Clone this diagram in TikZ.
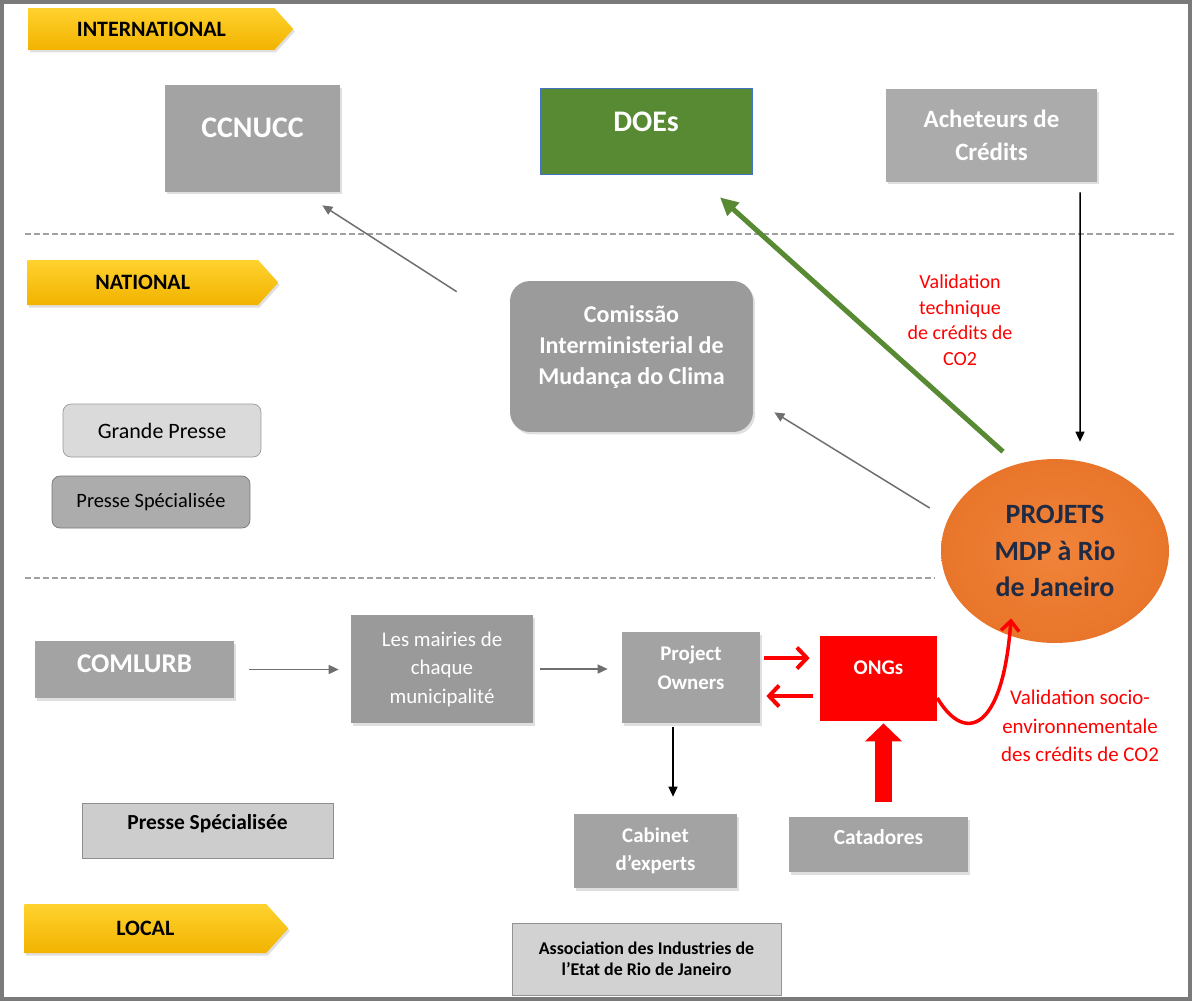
\documentclass[tikz,border=0pt]{standalone}
\usepackage{fontspec}
\setmainfont{Carlito}
\usetikzlibrary{arrows.meta,shapes.geometric,shapes.symbols,shadows}
\definecolor{boxgrey}{HTML}{A3A3A3}
\definecolor{achgrey}{HTML}{ABABAB}
\definecolor{comgrey}{HTML}{9B9B9B}
\definecolor{mairgrey}{HTML}{9A9A9A}
\definecolor{arrowgrey}{HTML}{6F6F6F}
\definecolor{framegrey}{HTML}{7A7A7A}
\definecolor{dashgrey}{HTML}{A0A0A0}
\definecolor{gplight}{HTML}{DADADA}
\definecolor{psdark}{HTML}{ACACAC}
\definecolor{pslight}{HTML}{CDCDCD}
\definecolor{assocgrey}{HTML}{D2D2D2}
\definecolor{doegreen}{HTML}{578A33}
\definecolor{doeblue}{HTML}{4472C4}
\definecolor{ongred}{HTML}{FF0000}
\definecolor{projlight}{HTML}{F0843A}
\definecolor{projdark}{HTML}{E8752A}
\definecolor{projnavy}{HTML}{1F2A44}
\definecolor{bannertop}{HTML}{FFD22E}
\definecolor{bannerbot}{HTML}{F2B300}
\begin{document}
\begin{tikzpicture}[x=0.02cm,y=-0.02cm,
  every node/.style={align=center,inner sep=2pt},
  greybox/.style={rectangle,fill=#1,text=white,
    drop shadow={shadow xshift=0.04cm,shadow yshift=-0.05cm,opacity=0.25}},
  greybox/.default=boxgrey,
  pressbox/.style={rectangle,draw=#1!70!black,fill=#1,text=black},
  banner/.style={signal,signal to=east,signal from=nowhere,signal pointer angle=96,
    top color=bannertop,bottom color=bannerbot,inner sep=0pt,anchor=west,
    font=\bfseries\fontsize{12.5}{15}\selectfont,
    drop shadow={shadow xshift=0.03cm,shadow yshift=-0.05cm,opacity=0.25}},
  thin arrow/.style={draw=#1,line width=0.03cm,-{Triangle[length=0.2cm,width=0.18cm]}},
  red arrow/.style={draw=ongred,line width=0.08cm,-{Straight Barb[length=0.2cm,width=0.42cm]}},
  green arrow/.style={draw=doegreen,line width=0.1cm,-{Triangle[length=0.36cm,width=0.34cm]}},
  redlabel/.style={text=ongred,font=\fontsize{11.9}{16.2}\selectfont}]
\useasboundingbox (0,0) rectangle (1192,1001);
\draw[framegrey,line width=0.08cm] (2,2) rectangle (1190,999);
\draw[dashgrey,line width=0.03cm,dash pattern=on 0.12cm off 0.06cm] (25,234) -- (1176,234);
\draw[dashgrey,line width=0.03cm,dash pattern=on 0.12cm off 0.06cm] (25,578) -- (935,578);

\node[banner,minimum width=5.3cm,minimum height=0.84cm] (intl) at (28,29) {INTERNATIONAL};
\node[banner,minimum width=5.02cm,minimum height=0.9cm] (natl) at (27,282.5) {NATIONAL};
\node[banner,minimum width=5.28cm,minimum height=0.98cm] (locl) at (24,928.5) {LOCAL};

\node[greybox,minimum width=3.5cm,minimum height=2.14cm,text depth=0.42cm,
  font=\bfseries\fontsize{17}{20}\selectfont] (ccnucc) at (252.5,138.5) {CCNUCC};
\node[rectangle,draw=doeblue,fill=doegreen,text=white,minimum width=4.24cm,minimum height=1.72cm,
  text depth=0.36cm,font=\bfseries\fontsize{17}{20}\selectfont] (doe) at (646,131) {DOEs};
\node[greybox=achgrey,minimum width=4.22cm,minimum height=1.86cm,
  font=\bfseries\fontsize{14.2}{18.8}\selectfont] (ach) at (991.5,135.5) {Acheteurs de\\Crédits};
\node[greybox=comgrey,rounded corners=0.4cm,minimum width=4.86cm,minimum height=3.02cm,text depth=0.46cm,
  font=\bfseries\fontsize{13.7}{17.6}\selectfont] (com) at (631.5,356.5)
  {Comissão\\Interministerial de\\Mudança do Clima};
\node[pressbox=gplight,rounded corners=0.16cm,minimum width=3.96cm,minimum height=1.06cm,
  font=\fontsize{12.5}{15}\selectfont] (gp) at (162,430.5) {Grande Presse};
\node[pressbox=psdark,rounded corners=0.16cm,minimum width=3.96cm,minimum height=1.04cm,
  font=\fontsize{11.6}{14}\selectfont] (psnat) at (151,502) {Presse Spécialisée};
\node[ellipse,minimum width=4.56cm,minimum height=3.68cm,inner sep=0pt,inner color=projlight,
  outer color=projdark,text=projnavy,font=\bfseries\fontsize{15.9}{20.8}\selectfont] (proj) at (1055,551)
  {PROJETS\\MDP à Rio\\de Janeiro};
\node[redlabel,font=\fontsize{11.4}{14.6}\selectfont] (valtech) at (960,320)
  {Validation\\technique\\de crédits de\\CO2};

\node[greybox,minimum width=3.98cm,minimum height=1.14cm,text depth=0.22cm,
  font=\bfseries\fontsize{15.4}{18}\selectfont] (coml) at (134.5,669.5) {COMLURB};
\node[greybox=mairgrey,minimum width=3.64cm,minimum height=2.16cm,
  font=\fontsize{11.9}{16.2}\selectfont] (mair) at (442,669) {Les mairies de\\chaque\\municipalité};
\node[greybox,minimum width=2.76cm,minimum height=1.82cm,text depth=0.4cm,
  font=\bfseries\fontsize{11.9}{16.5}\selectfont] (po) at (691,677.5) {Project\\Owners};
\node[rectangle,fill=ongred,text=white,minimum width=2.34cm,minimum height=1.7cm,text depth=0.42cm,
  font=\bfseries\fontsize{11.9}{14}\selectfont] (ong) at (878.5,678.5) {ONGs};
\node[redlabel] (valsoc) at (1080,726) {Validation socio-\\environnementale\\des crédits de CO2};
\node[pressbox=pslight,minimum width=5.02cm,minimum height=1.1cm,text depth=0.34cm,
  font=\bfseries\fontsize{12.2}{15}\selectfont] (psloc) at (207.5,830.5) {Presse Spécialisée};
\node[greybox,minimum width=3.26cm,minimum height=1.48cm,
  font=\bfseries\fontsize{11.9}{15.9}\selectfont] (cab) at (655.5,851) {Cabinet\\d’experts};
\node[greybox,minimum width=3.58cm,minimum height=1.1cm,text depth=0.3cm,
  font=\bfseries\fontsize{12.2}{15}\selectfont] (cat) at (878.5,844.5) {Catadores};
\node[pressbox=assocgrey,minimum width=5.38cm,minimum height=1.44cm,
  font=\bfseries\fontsize{10.2}{12}\selectfont] (assoc) at (646.5,959)
  {Association des Industries de\\l’Etat de Rio de Janeiro};

\draw[thin arrow=arrowgrey] ([shift={(-53,11)}]com.north west) -- ([shift={(-18,13)}]ccnucc.south east);
\draw[thin arrow=arrowgrey] ([shift={(-11,-43)}]proj.west) -- ([shift={(21,-20)}]com.south east);
\draw[green arrow] ([shift={(-52,-7)}]proj.north) -- ([shift={(74,23)}]doe.south);
\draw[thin arrow=black] ([shift={(88.5,10)}]ach.south) -- ([shift={(25,-17)}]proj.north);
\draw[thin arrow=arrowgrey,shorten <=0.3cm,shorten >=0.24cm] (coml.east) -- (coml.east -| mair.west);
\draw[thin arrow=arrowgrey,shorten <=0.14cm,shorten >=0.28cm] (mair.east) -- (mair.east -| po.west);
\draw[thin arrow=black,shorten <=0.08cm,shorten >=0.34cm] ([xshift=-0.36cm]po.south)
  -- ([xshift=-0.36cm]po.south |- cab.north);
\draw[red arrow,shorten <=0.08cm,shorten >=0.2cm] ([yshift=0.39cm]po.east) -- ([yshift=0.39cm]po.east -| ong.west);
\draw[red arrow,shorten <=0.14cm,shorten >=0.12cm] ([yshift=-0.35cm]ong.west) -- ([yshift=-0.35cm]ong.west -| po.east);
\draw[ongred,line width=0.34cm,-{Triangle[length=0.36cm,width=0.72cm]}] ([shift={(5,-15)}]cat.north)
  -- ([shift={(5,2)}]ong.south);
\draw[ongred,line width=0.07cm,-{Straight Barb[length=0.2cm,width=0.36cm]}] ([yshift=-0.39cm]ong.east)
  .. controls +(28,47) and +(-8,112) .. ([shift={(-44,-25)}]proj.south);
\end{tikzpicture}
\end{document}
